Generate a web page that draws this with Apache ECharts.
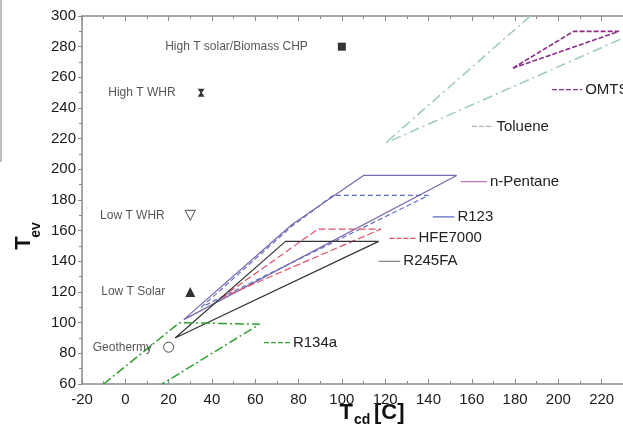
<!DOCTYPE html>
<html>
<head>
<meta charset="utf-8">
<script src="https://cdn.jsdelivr.net/npm/echarts@6/dist/echarts.min.js"></script>
<style>
  html, body { margin: 0; padding: 0; background: #fff; overflow: hidden; }
  #chart { width: 700px; height: 434px; }
</style>
</head>
<body>
<div id="chart"></div>
<script>
// heat sources (T_cd, T_ev)
var srcNames = ['High T solar/Biomass CHP', 'High T WHR', 'Low T WHR', 'Low T Solar', 'Geothermy'];
var srcTcd = [100, 35, 30, 30, 20];
var srcTev = [280, 250, 170, 120, 84];

// working fluid envelopes, [T_cd, T_ev]
var nPentaneEnv = [[27, 102], [77, 164], [110, 196], [153, 196], [27, 102]];
var r123Env = [[35, 110], [77, 163], [96, 183], [140, 183], [35, 110]];
var hfe7000Env = [[44, 116], [89, 161], [118, 161], [44, 116]];
var r245faEnv = [[23, 90], [74, 153], [117, 153], [23, 90]];
var r134aEnv = [[-10, 60], [25, 100], [62, 99], [17, 60]];
var tolueneEnv = [[187, 300], [120, 217], [253, 300]];
var omtsEnv = [[179, 266], [207, 290], [228, 290], [179, 266]];

var fluidNames = ['n-Pentane', 'R123', 'HFE7000', 'R245FA', 'R134a', 'Toluene', 'OMTS'];
var fluidEnvs = [nPentaneEnv, r123Env, hfe7000Env, r245faEnv, r134aEnv, tolueneEnv, omtsEnv];

// label leader lines
var leaderX1 = [155, 142, 122, 117, 64, 160, 197];
var leaderX2 = [167, 152, 134, 127, 76, 170, 211];
var leaderY = [192, 169, 155, 140, 87, 228, 252];

// styles
var fluidColor = ['#7a66aa', '#5f6fc0', '#e0506a', '#333333', '#2ea02e', '#9cc9c2', '#8c2c8c'];
var fluidDash = ['solid', [5, 3], [7, 3], 'solid', [9, 3, 2, 3], [10, 4, 2, 4], [5, 2]];
var fluidWidth = [1.2, 1.2, 1.2, 1.2, 1.5, 1.5, 1.6];
var leaderColor = ['#c070b4', '#5f6fc0', '#e0506a', '#888888', '#2ea02e', '#b0b0b0', '#8c2c8c'];
var srcSymbol = ['rect', 'path://M0,0 L10,0 L6,5 L10,10 L0,10 L4,5 Z', 'triangle', 'triangle', 'circle'];
var srcSize = [8, [7, 8], 10, 10, 10];
var srcRotate = [0, 0, 180, 0, 0];
var srcFill = ['#000', '#000', '#fff', '#000', '#fff'];
var srcGap = [30, 22, 20, 20, 11];

var series = [];
for (var i = 0; i < fluidNames.length; i++) {
    series.push({
        name: fluidNames[i],
        type: 'line',
        data: fluidEnvs[i],
        symbol: 'none',
        silent: true,
        lineStyle: { color: fluidColor[i], width: fluidWidth[i], type: fluidDash[i] },
        z: 3
    });
    series.push({
        name: fluidNames[i],
        type: 'line',
        data: [[leaderX1[i], leaderY[i]], [leaderX2[i], leaderY[i]]],
        symbol: 'none',
        silent: true,
        lineStyle: { color: leaderColor[i], width: 1.2, type: i === 0 || i === 3 || i === 1 ? 'solid' : [5, 2] },
        endLabel: {
            show: true,
            formatter: '{a}',
            distance: 3,
            color: '#222',
            fontSize: 15,
            fontFamily: 'Liberation Sans'
        },
        z: 3
    });
}
for (var j = 0; j < srcNames.length; j++) {
    series.push({
        name: srcNames[j],
        type: 'scatter',
        data: [[srcTcd[j], srcTev[j]]],
        symbol: srcSymbol[j],
        symbolSize: srcSize[j],
        symbolRotate: srcRotate[j],
        itemStyle: { color: srcFill[j], borderColor: '#222', borderWidth: srcFill[j] === '#fff' ? 1 : 0 },
        label: {
            show: true,
            position: 'left',
            distance: srcGap[j],
            formatter: srcNames[j],
            color: '#2a2a2a',
            fontSize: 12,
            fontFamily: 'Liberation Sans'
        },
        z: 5
    });
}

var axisGray = '#8a8a8a';
var option = {
    backgroundColor: '#fff',
    animation: false,
    grid: { left: 82, top: 16, width: 563, height: 368, containLabel: false },
    xAxis: [{
        type: 'value',
        min: -20,
        max: 240,
        interval: 20,
        axisLine: { show: true, onZero: false, lineStyle: { color: axisGray, width: 1.5 } },
        axisTick: { show: true, inside: true, length: 5, lineStyle: { color: axisGray } },
        minorTick: { show: true, splitNumber: 2, length: 3, lineStyle: { color: axisGray } },
        splitLine: { show: false },
        axisLabel: { color: '#1a1a1a', fontSize: 15, margin: 8, fontFamily: 'Liberation Sans' }
    }, {
        type: 'value',
        position: 'top',
        min: -20,
        max: 240,
        interval: 20,
        axisLine: { show: true, onZero: false, lineStyle: { color: axisGray, width: 1.5 } },
        axisTick: { show: true, inside: true, length: 5, lineStyle: { color: axisGray } },
        minorTick: { show: true, splitNumber: 2, length: 3, lineStyle: { color: axisGray } },
        splitLine: { show: false },
        axisLabel: { show: false }
    }],
    yAxis: {
        type: 'value',
        min: 60,
        max: 300,
        interval: 20,
        axisLine: { show: true, onZero: false, lineStyle: { color: axisGray, width: 1.5 } },
        axisTick: { show: true, inside: false, length: 4, lineStyle: { color: axisGray } },
        minorTick: { show: true, splitNumber: 2, length: 3, lineStyle: { color: axisGray } },
        splitLine: { show: false },
        axisLabel: { color: '#1a1a1a', fontSize: 15, margin: 6, fontFamily: 'Liberation Sans' }
    },
    graphic: [
        // edge of the neighbouring panel
        { type: 'line', shape: { x1: 1, y1: 0, x2: 1, y2: 162 }, style: { stroke: '#aaa', lineWidth: 1.5 } },
        // axis titles
        { type: 'text', x: 353, y: 413, style: { text: 'T', font: 'bold 22px Liberation Sans', fill: '#111', align: 'right', verticalAlign: 'middle' } },
        { type: 'text', x: 354, y: 420, style: { text: 'cd', font: 'bold 14px Liberation Sans', fill: '#111', align: 'left', verticalAlign: 'middle' } },
        { type: 'text', x: 374, y: 413, style: { text: '[C]', font: 'bold 22px Liberation Sans', fill: '#111', align: 'left', verticalAlign: 'middle' } },
        { type: 'text', x: 24, y: 243, rotation: Math.PI / 2, style: { text: 'T', font: 'bold 22px Liberation Sans', fill: '#111', align: 'center', verticalAlign: 'middle' } },
        { type: 'text', x: 36, y: 230, rotation: Math.PI / 2, style: { text: 'ev', font: 'bold 14px Liberation Sans', fill: '#111', align: 'center', verticalAlign: 'middle' } }
    ],
    series: series
};

var myChart = echarts.init(document.getElementById('chart'));
myChart.setOption(option);
</script>
</body>
</html>
